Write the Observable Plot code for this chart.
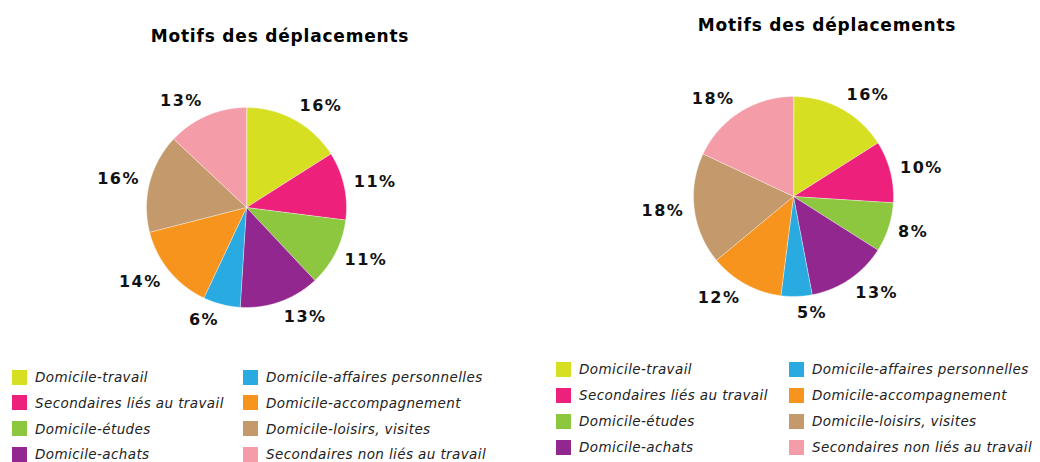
<!DOCTYPE html>
<html>
<head>
<meta charset="utf-8">
<script src="https://cdn.jsdelivr.net/npm/d3@7"></script>
<script src="https://cdn.jsdelivr.net/npm/@observablehq/plot@0.6"></script>
<style>
  html, body { margin: 0; padding: 0; background: #fff; }
  body { width: 1040px; height: 462px; position: relative; overflow: hidden; font-family: "DejaVu Sans", Verdana, sans-serif; }
  .title { position: absolute; width: 400px; margin-left: -200px; text-align: center; font-weight: bold; font-size: 17px; line-height: 20px; letter-spacing: 0.8px; color: #000; white-space: nowrap; }
  .pie { position: absolute; }
  .item { position: absolute; display: flex; align-items: center; font-style: italic; font-size: 13.5px; letter-spacing: 0.4px; color: #222; white-space: nowrap; height: 16px; }
  .sw { width: 15px; height: 15px; margin-right: 8px; flex: none; }
</style>
</head>
<body>
<script>
const categories = [
  "Domicile-travail",
  "Secondaires liés au travail",
  "Domicile-études",
  "Domicile-achats",
  "Domicile-affaires personnelles",
  "Domicile-accompagnement",
  "Domicile-loisirs, visites",
  "Secondaires non liés au travail"
];
const colors = ["#d7df23", "#ed207b", "#8dc63f", "#92278f", "#29abe2", "#f7941d", "#c49a6c", "#f49ca7"];
const valuesLeft = [16, 11, 11, 13, 6, 14, 16, 13];
const valuesRight = [16, 10, 8, 13, 5, 12, 18, 18];
const chartTitle = "Motifs des déplacements";

function pieFigure(values) {
  const arcs = d3.pie().sort(null).value(d => d)(values).map((a, i) => ({...a, cat: categories[i]}));
  const slices = arcs.map(a => {
    const n = Math.max(4, Math.ceil((a.endAngle - a.startAngle) / 0.01));
    const ring = [[0, 0]];
    for (let k = 0; k <= n; k++) {
      const t = a.startAngle + (a.endAngle - a.startAngle) * k / n;
      ring.push([Math.sin(t), Math.cos(t)]);
    }
    ring.push([0, 0]);
    return {type: "Feature", properties: {cat: a.cat}, geometry: {type: "Polygon", coordinates: [ring]}};
  });
  const mid = a => (a.startAngle + a.endAngle) / 2;
  const rx = 1.1, ry = 1.16;
  const labelMark = side => Plot.text(arcs.filter(a => (Math.sin(mid(a)) >= 0) === (side === "start")), {
    x: a => rx * Math.sin(mid(a)),
    y: a => ry * Math.cos(mid(a)),
    text: a => `${a.value}%`,
    textAnchor: side,
    fontWeight: "bold",
    fontSize: 16,
    fontFamily: "DejaVu Sans, Verdana, sans-serif",
    fill: "#111",
    style: "letter-spacing:1.5px"
  });
  return Plot.plot({
    width: 340,
    height: 300,
    margin: 0,
    projection: {type: "reflect-y", domain: {type: "MultiPoint", coordinates: [[-1.7, -1.5], [1.7, 1.5]]}},
    color: {domain: categories, range: colors},
    style: {background: "transparent", overflow: "visible", letterSpacing: "1.5px"},
    marks: [
      Plot.geo(slices, {fill: d => d.properties.cat, stroke: "#fff", strokeWidth: 0.4}),
      labelMark("start"),
      labelMark("end")
    ]
  });
}

function addPanel(cfg) {
  const t = document.createElement("div");
  t.className = "title";
  t.textContent = chartTitle;
  t.style.left = cfg.titleX + "px";
  t.style.top = cfg.titleY + "px";
  document.body.appendChild(t);

  const fig = pieFigure(cfg.values);
  const wrap = document.createElement("div");
  wrap.className = "pie";
  wrap.style.left = (cfg.cx - 170) + "px";
  wrap.style.top = (cfg.cy - 150) + "px";
  wrap.appendChild(fig);
  document.body.appendChild(wrap);

  categories.forEach((c, i) => {
    const col = Math.floor(i / 4), row = i % 4;
    const it = document.createElement("div");
    it.className = "item";
    it.style.left = (col === 0 ? cfg.legX1 : cfg.legX2) + "px";
    it.style.top = (cfg.legY + row * cfg.legDy - 8) + "px";
    const sw = document.createElement("span");
    sw.className = "sw";
    sw.style.background = colors[i];
    const tx = document.createElement("span");
    tx.textContent = c;
    it.appendChild(sw);
    it.appendChild(tx);
    document.body.appendChild(it);
  });
}

addPanel({values: valuesLeft, titleX: 280, titleY: 26, cx: 246, cy: 207, legX1: 12, legX2: 243, legY: 377, legDy: 25.8});
addPanel({values: valuesRight, titleX: 827, titleY: 15, cx: 793, cy: 196, legX1: 556, legX2: 789, legY: 369, legDy: 26});
</script>
</body>
</html>
